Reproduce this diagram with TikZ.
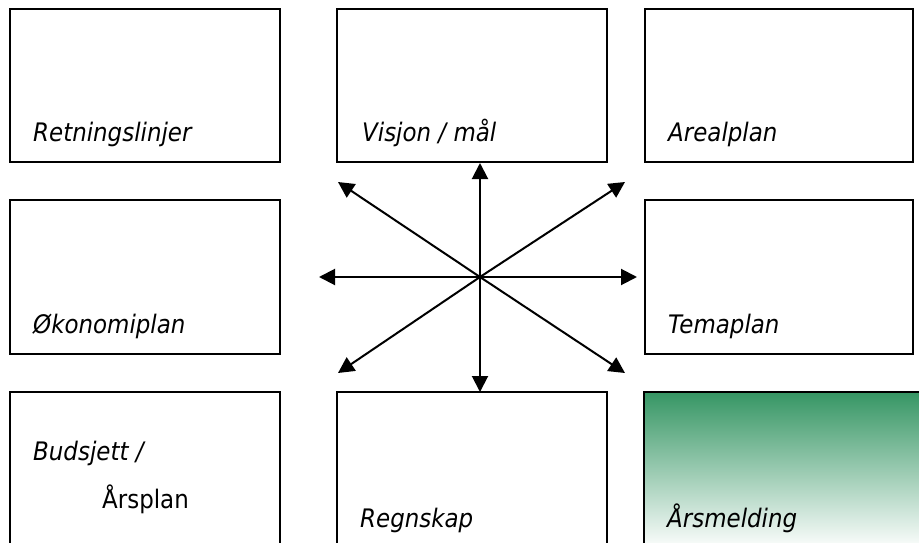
\documentclass[tikz,border=0pt]{standalone}
\usepackage{fontspec}
\setmainfont{DejaVu Sans}[FakeStretch=0.9]
\usetikzlibrary{arrows.meta}
\definecolor{grn}{RGB}{54,150,100}
\tikzset{
  box/.style={draw=black, line width=2pt, rectangle, inner sep=0pt, outer sep=0pt, anchor=north west},
  lbl/.style={anchor=base west, inner sep=0pt, font=\fontsize{25.5}{30}\selectfont\itshape},
  lblup/.style={anchor=base west, inner sep=0pt, font=\fontsize{25.5}{30}\selectfont},
  arr/.style={line width=2pt, -{Triangle[length=16pt,width=16pt]}}
}
\begin{document}
\begin{tikzpicture}[x=1pt,y=-1pt]
\useasboundingbox (0,0) rectangle (919,543);
\clip (0,0) rectangle (919,543);
% row 1
\node[box, minimum width=270pt, minimum height=153pt] (b1) at (10,9) {};
\node[box, minimum width=270pt, minimum height=153pt] (b2) at (337,9) {};
\node[box, minimum width=268pt, minimum height=153pt] (b3) at (645,9) {};
% row 2
\node[box, minimum width=270pt, minimum height=154pt] (b4) at (10,200) {};
\node[box, minimum width=268pt, minimum height=154pt] (b6) at (645,200) {};
% row 3
\node[box, minimum width=270pt, minimum height=170pt] (b7) at (10,392) {};
\node[box, minimum width=270pt, minimum height=170pt] (b8) at (337,392) {};
\node[box, minimum width=290pt, minimum height=158pt, top color=grn, middle color=grn!38, bottom color=white] (b9) at (644,392) {};
% labels
\node[lbl] (t1) at (33,142) {Retningslinjer};
\node[lbl] (t2) at (362,142) {Visjon / mål};
\node[lbl] (t3) at (668,142) {Arealplan};
\node[lbl] (t4) at (33,333) {Økonomiplan};
\node[lbl] (t6) at (668,333) {Temaplan};
\node[lbl] (t7) at (33,460) {Budsjett /};
\node[lblup] (t7b) at (102,508) {Årsplan};
\node[lbl] (t8) at (360,527) {Regnskap};
\node[lbl] (t9) at (667,527) {Årsmelding};
% arrows
\coordinate (c) at (480,277);
\coordinate (eu) at (480,163);
\coordinate (ed) at (480,392);
\coordinate (el) at (319,277);
\coordinate (er) at (637,277);
\coordinate (eul) at (338,182);
\coordinate (eur) at (625,182);
\coordinate (edl) at (338,373);
\coordinate (edr) at (625,373);
\foreach \e in {eu,ed,el,er,eul,eur,edl,edr}{\draw[arr] (c) -- (\e);}
\end{tikzpicture}
\end{document}
